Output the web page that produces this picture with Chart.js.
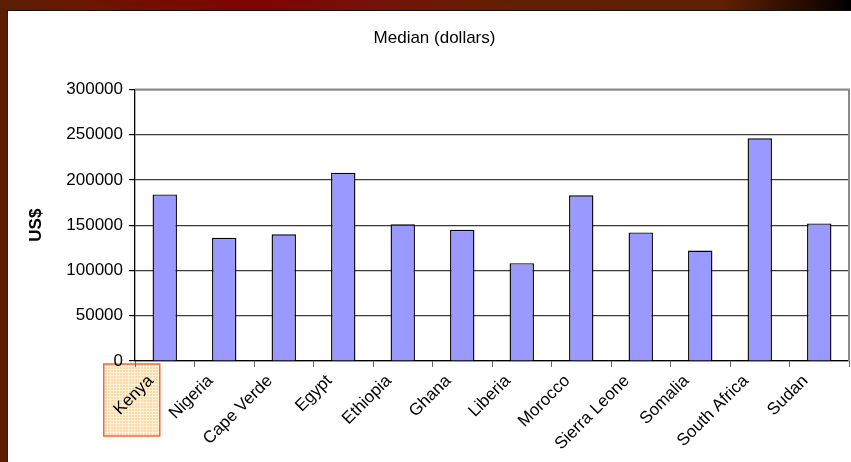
<!DOCTYPE html>
<html>
<head>
<meta charset="utf-8">
<title>Median (dollars)</title>
<script src="https://cdn.jsdelivr.net/npm/chart.js@4"></script>
<style>
    html, body {
        margin: 0;
        padding: 0;
        width: 851px;
        height: 462px;
        overflow: hidden;
        background: linear-gradient(to right, #5a1e02 0%, #6e1400 12%, #7f0500 30%, #74120a 45%, #622000 60%, #5e2000 85%, #2a0c00 94%, #000 100%);
    }
    #panel {
        position: absolute;
        left: 7px;
        top: 10px;
        width: 844px;
        height: 452px;
        background: #fff;
        border-top: 1px solid #111;
        border-left: 1px solid #222;
        box-sizing: border-box;
    }
    #wrap {
        position: absolute;
        left: 0;
        top: 1px;
        width: 843px;
        height: 451px;
    }
</style>
</head>
<body>
<div id="panel"><div id="wrap"><canvas id="medianChart"></canvas></div></div>
<script>
const countries = ["Kenya", "Nigeria", "Cape Verde", "Egypt", "Ethiopia", "Ghana", "Liberia",
    "Morocco", "Sierra Leone", "Somalia", "South Africa", "Sudan"];
const medians = [184000, 136000, 140000, 208000, 151000, 145000, 108000,
    183000, 142000, 122000, 246000, 152000];
const yTicks = [0, 50000, 100000, 150000, 200000, 250000, 300000];

const FONT = "'Liberation Sans', Arial, sans-serif";

// gray frame on the top and right side of the plot area
const plotFrame = {
    id: "plotFrame",
    beforeDatasetsDraw(chart) {
        const a = chart.chartArea;
        const c = chart.ctx;
        c.save();
        c.strokeStyle = "#8a8a8a";
        c.lineWidth = 2;
        c.beginPath();
        c.moveTo(a.left, a.top);
        c.lineTo(a.right, a.top);
        c.lineTo(a.right, a.bottom);
        c.stroke();
        c.restore();
    }
};

// orange selection box behind the first category label
const labelBox = {
    id: "labelBox",
    beforeDraw(chart) {
        const x = chart.scales.x;
        const c = chart.ctx;
        const cx = x.getPixelForTick(0);
        const left = cx - 61, top = x.top + 3, w = 56, h = 72;

        const p = document.createElement("canvas");
        p.width = 3;
        p.height = 3;
        const pc = p.getContext("2d");
        pc.fillStyle = "#fcd9a2";
        pc.fillRect(0, 0, 3, 3);
        pc.fillStyle = "#fff1dc";
        pc.fillRect(0, 0, 3, 1);
        pc.fillRect(0, 0, 1, 3);

        c.save();
        c.fillStyle = c.createPattern(p, "repeat");
        c.fillRect(left, top, w, h);
        c.strokeStyle = "#f26a36";
        c.lineWidth = 1.5;
        c.strokeRect(left, top, w, h);
        c.restore();
    }
};

const ctx = document.getElementById("medianChart").getContext("2d");

const chart = new Chart(ctx, {
    type: "bar",
    data: {
        labels: countries,
        datasets: [{
            label: "Median (dollars)",
            data: medians,
            backgroundColor: "#9999ff",
            borderColor: "#000000",
            borderWidth: 1.4,
            barPercentage: 0.41,
            categoryPercentage: 1
        }]
    },
    plugins: [plotFrame, labelBox],
    options: {
        responsive: true,
        maintainAspectRatio: false,
        animation: false,
        layout: {
            padding: { left: 12, right: 2, top: 0, bottom: 0 }
        },
        plugins: {
            legend: { display: false },
            tooltip: { enabled: false },
            title: {
                display: true,
                text: "Median (dollars)",
                color: "#000",
                font: { family: FONT, size: 17, weight: "normal" },
                padding: { top: 16, bottom: 41 }
            }
        },
        scales: {
            x: {
                offset: true,
                grid: {
                    offset: true,
                    drawOnChartArea: false,
                    drawTicks: true,
                    tickLength: 6,
                    tickColor: "#666",
                    color: "#666"
                },
                border: { color: "#000", width: 1.3 },
                ticks: {
                    autoSkip: false,
                    minRotation: 45,
                    maxRotation: 45,
                    padding: 4,
                    labelOffset: -14,
                    color: "#000",
                    font: { family: FONT, size: 17 }
                },
                afterFit(scale) {
                    scale.height = 102;
                }
            },
            y: {
                min: 0,
                max: 300000,
                afterBuildTicks(scale) {
                    scale.ticks = yTicks.map(v => ({ value: v }));
                },
                grid: {
                    color: "#3c3c3c",
                    lineWidth: 1.2,
                    tickLength: 6,
                    tickColor: "#000"
                },
                border: { color: "#000", width: 1.3 },
                ticks: {
                    padding: 6,
                    color: "#000",
                    font: { family: FONT, size: 17 },
                    callback: v => String(v)
                },
                title: {
                    display: true,
                    text: "US$",
                    color: "#000",
                    padding: { top: 6, bottom: 0 },
                    font: { family: FONT, size: 17, weight: "bold" }
                },
                afterFit(scale) {
                    scale.width = 115;
                }
            }
        }
    }
});
</script>
</body>
</html>
